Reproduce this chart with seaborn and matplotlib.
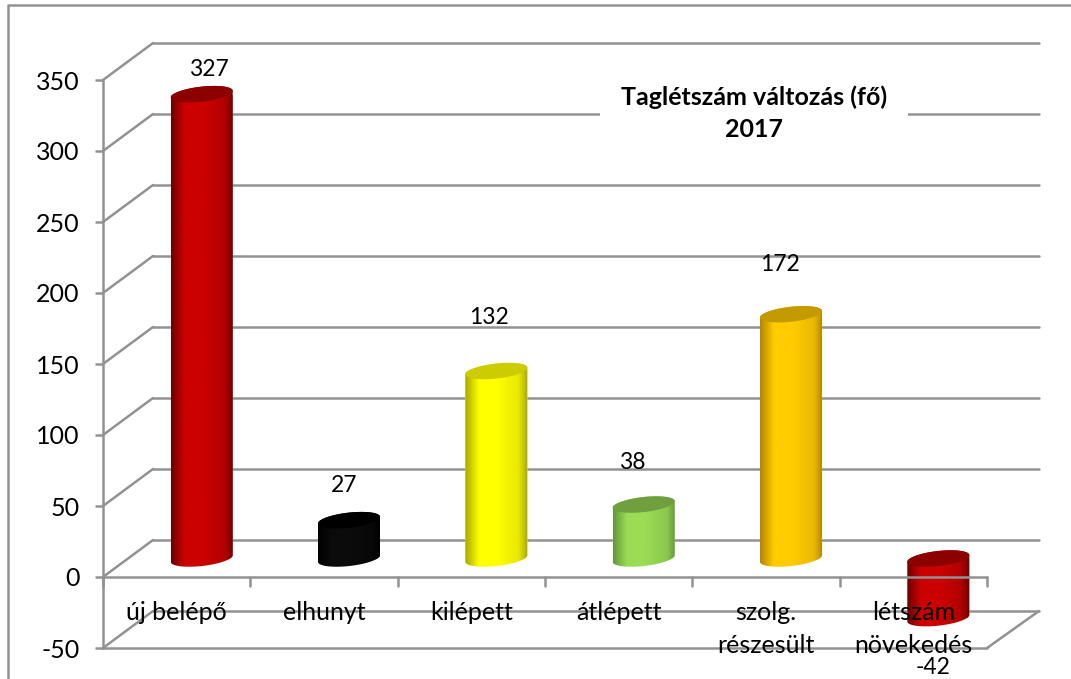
import numpy as np
import pandas as pd
import matplotlib
matplotlib.use("Agg")
import matplotlib.pyplot as plt
import seaborn as sns
from matplotlib.colors import LinearSegmentedColormap, to_rgb
from matplotlib.lines import Line2D
from matplotlib.patches import PathPatch, Polygon
from matplotlib.path import Path
from matplotlib.transforms import Affine2D, IdentityTransform

# data
categories = ["új belépő", "elhunyt", "kilépett", "átlépett", "szolg.\nrészesült", "létszám\nnövekedés"]
values = [327, 27, 132, 38, 172, -42]
y_ticks = [-50, 0, 50, 100, 150, 200, 250, 300, 350]

# colours of each cylinder: middle, side, top cap
mid_colors = ["#cc0000", "#0b0b0b", "#ffff00", "#9bdc55", "#ffcc00", "#cc0000"]
side_colors = ["#6e0000", "#000000", "#a8a800", "#64963a", "#b48600", "#6e0000"]
cap_colors = ["#8c0000", "#000000", "#cccc00", "#6f9f3e", "#c39a00", "#8c0000"]
# label offsets from the top of each bar, in pixels
label_dx = [7, -5, -7, -11, -11, -5]
label_dy = [25, 35, 54, 42, 50, -49]

W, H = 1071, 679
GRAY = "#929292"
LW = 1.8
FONT = "Lato"

sns.set_theme(style="white")
plt.rcParams["font.family"] = [FONT, "DejaVu Sans"]
plt.rcParams["axes.unicode_minus"] = False

fig = plt.figure(figsize=(W / 100, H / 100), dpi=100, facecolor="white")

# front plane, pixel box of the value axis
pos = [103 / W, (H - 648) / H, 884 / W, 568 / H]
ax = fig.add_axes(pos, zorder=1)
ax.set_xlim(-0.5, 5.5)
ax.set_ylim(-50, 350)
ax.patch.set_visible(False)
for s in ["top", "right", "bottom"]:
    ax.spines[s].set_visible(False)
ax.spines["left"].set_color(GRAY)
ax.spines["left"].set_linewidth(LW)
ax.set_xticks([])
ax.set_yticks(y_ticks)
ax.tick_params(axis="y", left=True, length=6, width=LW, color=GRAY, pad=11, labelsize=18, labelcolor="black")

# back wall gridlines and the depth diagonals
depth_x, depth_y = 50, 37
step_x, step_y = 147.33, 1.42
back = ax.transData + Affine2D().translate(depth_x, depth_y)
for t in y_ticks:
    ax.plot([-0.5, 5.5 + 2 / step_x], [t, t], transform=back, color=GRAY, lw=LW, clip_on=False, zorder=1)
    ax.plot([-0.5, -0.5 + depth_x / step_x], [t, t + depth_y / step_y], color=GRAY, lw=LW, clip_on=False, zorder=1)
# floor edges
ax.plot([-0.5, 5.5], [-50, -50], color=GRAY, lw=LW, clip_on=False, zorder=1)
ax.plot([5.5, 5.5 + 52 / step_x], [-50, -50 + depth_y / step_y], color=GRAY, lw=LW, clip_on=False, zorder=1)

# title sits on a white box which cuts the 300 gridline
ax.text((754 - 103) / 884, (648 - 113) / 568, "Taglétszám változás (fő)\n2017", transform=ax.transAxes,
        ha="center", va="center", fontsize=18, fontweight="bold", color="black", linespacing=1.5,
        zorder=2, bbox=dict(facecolor="white", edgecolor="none", pad=15))

# bars live on their own axes, half a depth step into the chart
bar_pos = [pos[0] + 25 / W, pos[1] + 18.5 / H, pos[2], pos[3]]
ax_bars = fig.add_axes(bar_pos, zorder=2)
df = pd.DataFrame({"kategoria": categories, "fo": values})
sns.barplot(data=df, x="kategoria", y="fo", hue="kategoria", palette=mid_colors, width=62 / step_x,
            legend=False, saturation=1, ax=ax_bars)
ax_bars.set_xlim(-0.5, 5.5)
ax_bars.set_ylim(-50, 350)
ax_bars.axis("off")
fig.canvas.draw()

tilt = np.radians(6.5)
b = 7.5


def arc(center, a, t):
    x = center[0] + a * np.cos(t) * np.cos(tilt) - b * np.sin(t) * np.sin(tilt)
    y = center[1] + a * np.cos(t) * np.sin(tilt) + b * np.sin(t) * np.cos(tilt)
    return np.column_stack([x, y])


for i, p in enumerate(ax_bars.patches):
    cx = p.get_x() + p.get_width() / 2
    high = max(values[i], 0)
    low = min(values[i], 0)
    top = ax_bars.transData.transform((cx, high))
    bottom = ax_bars.transData.transform((cx, low))
    a = 31 / np.cos(tilt)
    # outline: lower half of the bottom ellipse, upper half of the top one
    outline = np.vstack([arc(bottom, a, np.linspace(np.pi, 2 * np.pi, 50)), arc(top, a, np.linspace(0, np.pi, 50))])
    clip = PathPatch(Path(np.vstack([outline, outline[:1]]), closed=True), transform=IdentityTransform())
    p.set_clip_path(clip)

    mid = np.array(to_rgb(mid_colors[i]))
    side = np.array(to_rgb(side_colors[i]))
    shade = tuple(mid * 0.72 + side * 0.28)
    cmap = LinearSegmentedColormap.from_list("cyl", [(0, side_colors[i]), (0.22, mid_colors[i]), (0.52, mid_colors[i]),
                                                     (0.86, shade), (1, side_colors[i])])
    im = ax_bars.imshow(np.linspace(0, 1, 128).reshape(1, -1), cmap=cmap, aspect="auto", zorder=3,
                        extent=(p.get_x(), p.get_x() + p.get_width(), low - 15, high + 15))
    im.set_clip_path(clip)
    ax_bars.add_patch(Polygon(arc(top, a, np.linspace(0, 2 * np.pi, 100)), closed=True, facecolor=cap_colors[i],
                              edgecolor="none", transform=IdentityTransform(), zorder=4))

    ax_bars.annotate(str(values[i]), (cx, values[i] if values[i] > 0 else low), xycoords="data",
                     xytext=(label_dx[i] * 0.72, label_dy[i] * 0.72), textcoords="offset points",
                     ha="center", va="center", fontsize=16.5, color="black", zorder=6, annotation_clip=False)

ax_bars.set_xlim(-0.5, 5.5)
ax_bars.set_ylim(-50, 350)

# zero line and category ticks run over the negative bar
ax_bars.plot([-0.5, 5.5], [0, 0], transform=ax.transData, color=GRAY, lw=LW, clip_on=False, zorder=5)
for k in range(7):
    ax_bars.plot([k - 0.5, k - 0.5], [0, -6], transform=ax.transData, color=GRAY, lw=LW, clip_on=False, zorder=5)

for i, c in enumerate(categories):
    ax_bars.annotate(c, (i, 0), xycoords=ax.transData, xytext=(0, -17), textcoords="offset points",
                     ha="center", va="top", fontsize=18, color="black", linespacing=1.55, zorder=6,
                     annotation_clip=False)

# outer frame, only the left and top edges are in the crop
fig.add_artist(Line2D([8 / W, 8 / W, 1], [0, (H - 5) / H, (H - 5) / H], color=GRAY, lw=LW))

fig.savefig("out.png", dpi=100, facecolor="white")
